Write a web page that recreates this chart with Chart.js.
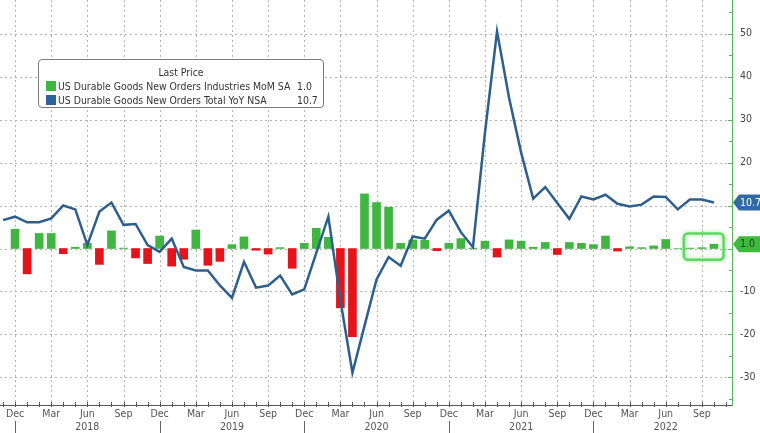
<!DOCTYPE html>
<html>
<head>
<meta charset="utf-8">
<script src="https://cdn.jsdelivr.net/npm/chart.js@4.4.1/dist/chart.umd.min.js"></script>
<style>
	html, body { margin: 0; padding: 0; background: #fff; }
	#wrap { position: relative; width: 760px; height: 433px; }
	#legend {
		position: absolute; left: 38px; top: 59px; width: 286px; height: 49px;
		box-sizing: border-box; border: 1px solid #7a7a7a; border-radius: 4px; background: #fff;
		font: 10.4px 'DejaVu Sans Condensed', 'DejaVu Sans', sans-serif; color: #333;
	}
	#legend span { position: absolute; white-space: nowrap; line-height: 12px; }
	#legend .sw { width: 10px; height: 10px; }
</style>
</head>
<body>
<div id="wrap">
	<canvas id="chart" width="760" height="433"></canvas>
	<div id="legend">
		<span style="left:0;width:284px;text-align:center;top:6px;">Last Price</span>
		<span class="sw" style="left:7px;top:21px;background:#3fb63f;"></span>
		<span style="left:19px;top:20px;">US Durable Goods New Orders Industries MoM SA</span>
		<span style="left:258px;top:20px;">1.0</span>
		<span class="sw" style="left:7px;top:35px;background:#2e629a;"></span>
		<span style="left:19px;top:34px;">US Durable Goods New Orders Total YoY NSA</span>
		<span style="left:258px;top:34px;">10.7</span>
	</div>
</div>
<script>
	'use strict';

	// monthly categories, Nov 2017 .. Oct 2022
	const months = [
		'2017-11', '2017-12',
		'2018-01', '2018-02', '2018-03', '2018-04', '2018-05', '2018-06', '2018-07', '2018-08', '2018-09', '2018-10', '2018-11', '2018-12',
		'2019-01', '2019-02', '2019-03', '2019-04', '2019-05', '2019-06', '2019-07', '2019-08', '2019-09', '2019-10', '2019-11', '2019-12',
		'2020-01', '2020-02', '2020-03', '2020-04', '2020-05', '2020-06', '2020-07', '2020-08', '2020-09', '2020-10', '2020-11', '2020-12',
		'2021-01', '2021-02', '2021-03', '2021-04', '2021-05', '2021-06', '2021-07', '2021-08', '2021-09', '2021-10', '2021-11', '2021-12',
		'2022-01', '2022-02', '2022-03', '2022-04', '2022-05', '2022-06', '2022-07', '2022-08', '2022-09', '2022-10'
	];

	// Durable goods new orders, MoM % (SA)
	const momSA = [
		null, 4.5,
		-5.9, 3.5, 3.5, -1.2, 0.3, 1.2, -3.7, 4.1, 0.1, -2.2, -3.5, 2.9,
		-4.1, -2.5, 4.3, -3.9, -3.0, 0.9, 2.7, -0.4, -1.3, 0.2, -4.6, 1.2,
		4.7, 2.6, -13.8, -20.5, 12.7, 10.7, 9.6, 1.2, 2.0, 1.9, -0.5, 1.2,
		2.3, 0.1, 1.7, -2.0, 2.0, 1.7, 0.3, 1.4, -1.4, 1.4, 1.2, 0.9,
		2.9, -0.6, 0.4, 0.2, 0.6, 2.1, 0.0, 0.1, 0.2, 1.0
	];

	// Durable goods new orders total, YoY % (NSA)
	const yoyNSA = [
		6.6, 7.4,
		6.1, 6.1, 7.0, 10.0, 9.1, 0.8, 8.6, 10.7, 5.5, 5.7, 0.8, -0.8,
		2.3, -4.3, -5.1, -5.1, -8.6, -11.5, -3.1, -9.1, -8.6, -6.3, -10.7, -9.5,
		-1.0, 7.4, -12.0, -28.9, -18.0, -7.2, -2.0, -4.0, 2.8, 2.3, 6.7, 8.8,
		3.8, 0.3, 27.0, 50.5, 35.0, 22.3, 11.6, 14.3, 10.6, 6.9, 12.1, 11.4,
		12.5, 10.4, 9.8, 10.2, 12.1, 12.0, 9.1, 11.4, 11.4, 10.7
	];

	const yTicks = [-30, -20, -10, 0, 10, 20, 30, 40, 50];
	const monthNames = ['Jan', 'Feb', 'Mar', 'Apr', 'May', 'Jun', 'Jul', 'Aug', 'Sep', 'Oct', 'Nov', 'Dec'];
	const labelledMonths = [12, 3, 6, 9];

	const GREEN = '#3fb63f';
	const RED = '#e5141b';
	const BLUE = '#2e5f8c';
	const AXIS_FONT = "'DejaVu Sans Condensed', 'DejaVu Sans', sans-serif";

	const monthOf = (i) => parseInt(months[i].slice(5), 10);
	const yearOf = (i) => months[i].slice(0, 4);
	const xTickIdx = months.map((m, i) => i).filter(i => labelledMonths.includes(monthOf(i)));

	const decorPlugin = {
		id: 'decor',
		beforeDatasetsDraw(chart) {
			const { ctx, chartArea: a, scales: { x, y } } = chart;
			ctx.save();
			ctx.strokeStyle = '#b4b4b4';
			ctx.lineWidth = 1;
			ctx.setLineDash([2, 3]);
			xTickIdx.forEach(i => {
				const px = Math.round(x.getPixelForValue(i)) + 0.5;
				ctx.beginPath(); ctx.moveTo(px, a.top); ctx.lineTo(px, a.bottom); ctx.stroke();
			});
			yTicks.forEach(v => {
				const py = Math.round(y.getPixelForValue(v)) + 0.5;
				ctx.beginPath(); ctx.moveTo(a.left, py); ctx.lineTo(a.right, py); ctx.stroke();
			});
			ctx.restore();
		},
		afterDraw(chart) {
			const { ctx, chartArea: a, scales: { x, y } } = chart;
			ctx.save();
			// month ticks on the time axis
			ctx.strokeStyle = '#555';
			ctx.lineWidth = 1;
			for (let i = 0; i < months.length + 1; i++) {
				const px = Math.round(x.getPixelForValue(i)) + 0.5;
				if (px > a.right) break;
				ctx.beginPath(); ctx.moveTo(px, a.bottom - 3); ctx.lineTo(px, a.bottom + 2); ctx.stroke();
			}
			// year separators under each Dec
			ctx.strokeStyle = '#666';
			xTickIdx.filter(i => monthOf(i) === 12).forEach(i => {
				const px = Math.round(x.getPixelForValue(i)) + 0.5;
				ctx.beginPath(); ctx.moveTo(px, a.bottom + 16); ctx.lineTo(px, chart.height); ctx.stroke();
			});
			// minor / major ticks on value axis
			ctx.strokeStyle = '#5cb85c';
			for (let v = -35; v <= 55; v += 5) {
				const py = Math.round(y.getPixelForValue(v)) + 0.5;
				const len = v % 10 === 0 ? 4 : 3;
				ctx.beginPath(); ctx.moveTo(a.right - len, py); ctx.lineTo(a.right, py); ctx.stroke();
			}
			// highlight box around the latest prints
			const bx1 = x.getPixelForValue(56.5), bx2 = x.getPixelForValue(59.8);
			const by1 = y.getPixelForValue(3.5), by2 = y.getPixelForValue(-2.6);
			ctx.shadowColor = 'rgba(80,220,80,0.6)';
			ctx.shadowBlur = 4;
			ctx.strokeStyle = '#62d662';
			ctx.lineWidth = 2.5;
			ctx.beginPath();
			ctx.roundRect(bx1, by1, bx2 - bx1, by2 - by1, 4);
			ctx.stroke();
			ctx.shadowBlur = 0;
			// last value badges
			const badge = (val, fill, color, text) => {
				const py = y.getPixelForValue(val);
				const x0 = a.right + 1, h = 16;
				ctx.beginPath();
				ctx.moveTo(x0, py);
				ctx.lineTo(x0 + 6, py - h / 2);
				ctx.lineTo(chart.width, py - h / 2);
				ctx.lineTo(chart.width, py + h / 2);
				ctx.lineTo(x0 + 6, py + h / 2);
				ctx.closePath();
				ctx.fillStyle = fill;
				ctx.fill();
				ctx.fillStyle = color;
				ctx.font = '10.5px ' + AXIS_FONT;
				ctx.textAlign = 'left';
				ctx.textBaseline = 'middle';
				ctx.fillText(text, x0 + 7, py + 0.5);
			};
			badge(yoyNSA[yoyNSA.length - 1], '#2f6aa6', '#fff', yoyNSA[yoyNSA.length - 1].toFixed(1));
			badge(momSA[momSA.length - 1], '#3dbb3d', '#1d3d1d', momSA[momSA.length - 1].toFixed(1));
			ctx.restore();
		}
	};

	new Chart(document.getElementById('chart'), {
		data: {
			datasets: [
				{
					type: 'line',
					label: 'US Durable Goods New Orders Total YoY NSA',
					data: yoyNSA.map((v, i) => ({ x: i, y: v })),
					borderColor: BLUE,
					borderWidth: 2.5,
					pointRadius: 0,
					tension: 0,
					order: 0
				},
				{
					type: 'bar',
					label: 'US Durable Goods New Orders Industries MoM SA',
					data: momSA.map((v, i) => ({ x: i, y: v })),
					backgroundColor: (c) => (c.raw && c.raw.y < 0 ? RED : GREEN),
					barThickness: 8,
					order: 1
				}
			]
		},
		options: {
			responsive: false,
			animation: false,
			layout: { padding: 0 },
			plugins: { legend: { display: false }, tooltip: { enabled: false } },
			scales: {
				x: {
					type: 'linear',
					offset: false,
					min: -0.25,
					max: 60.5,
					grid: { display: false, drawTicks: false },
					border: { display: true, color: '#555', width: 1 },
					afterBuildTicks: (scale) => { scale.ticks = xTickIdx.map(i => ({ value: i })); },
					afterFit: (scale) => {
						scale.height = 28;
						scale.paddingLeft = 0;
						scale.paddingRight = 0;
					},
					ticks: {
						autoSkip: false,
						maxRotation: 0,
						padding: 3,
						color: '#555',
						font: { family: AXIS_FONT, size: 10.5 },
						callback: (v) => {
							const name = monthNames[monthOf(v) - 1];
							return monthOf(v) === 6 ? [name, yearOf(v)] : name;
						}
					}
				},
				y: {
					type: 'linear',
					position: 'right',
					min: -36.4,
					max: 57.8,
					grid: { display: false, drawTicks: false },
					border: { display: true, color: '#5cb85c', width: 1 },
					afterBuildTicks: (scale) => { scale.ticks = yTicks.map(v => ({ value: v })); },
					afterFit: (scale) => {
						scale.width = 28;
						scale.paddingTop = 0;
						scale.paddingBottom = 0;
					},
					ticks: {
						padding: 8,
						color: '#444',
						font: { family: AXIS_FONT, size: 10.5 }
					}
				}
			}
		},
		plugins: [decorPlugin]
	});
</script>
</body>
</html>
